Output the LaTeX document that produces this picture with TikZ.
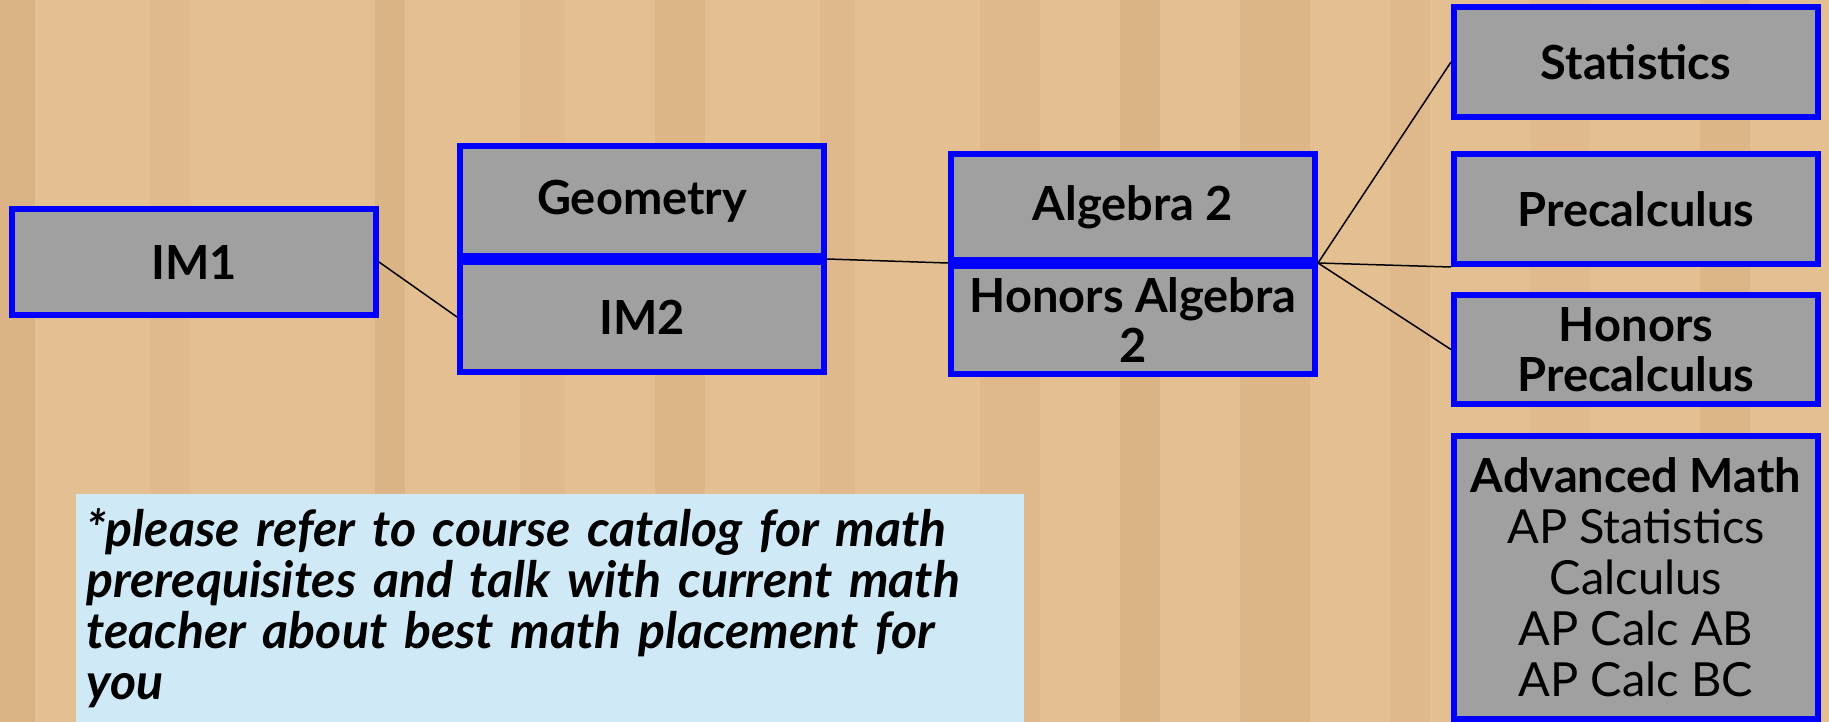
\documentclass[tikz,border=0pt]{standalone}
\usepackage{fontspec}
\setmainfont{Lato}
\usetikzlibrary{positioning}
\definecolor{woodtan}{RGB}{228,191,146}
\definecolor{woodgrain}{RGB}{196,150,100}
\definecolor{boxgray}{RGB}{160,160,160}
\definecolor{boxblue}{RGB}{0,0,255}
\definecolor{noteblue}{RGB}{208,233,246}

\begin{document}
\begin{tikzpicture}[x=1pt,y=-1pt,node distance=0pt,
  course/.style={draw=boxblue,fill=boxgray,line width=6pt,minimum width=364pt,inner sep=2pt,align=center,font=\fontsize{47}{50}\selectfont\bfseries}]
\useasboundingbox (0,0) rectangle (1829,722);
\fill[woodtan] (0,0) rectangle (1829,722);
\foreach \x/\w/\o in {0/35/.3,150/40/.12,375/30/.25,520/45/.12,655/50/.2,820/35/.15,980/60/.15,1120/40/.25,1240/70/.2,1390/40/.15,1530/60/.12,1700/50/.2}
  {\fill[woodgrain,opacity=\o] (\x,0) rectangle ++(\w,722);}
\node[course,minimum height=106pt] (im1) at (194,262) {IM1};
\node[course,minimum height=110pt] (geo) at (642,201) {Geometry};
\node[course,minimum height=110pt,below=of geo] (im2) {IM2};
\node[course,minimum height=106pt] (alg) at (1133,207) {Algebra 2};
\node[course,minimum height=108pt,below=of alg] (halg) {Honors Algebra\\2};
\node[course,minimum height=110pt] (stat) at (1636,62) {Statistics};
\node[course,minimum height=110pt,below=31pt of stat] (pre) {Precalculus};
\node[course,minimum height=109pt,below=25pt of pre] (hpre) {Honors\\Precalculus};
\node[course,minimum height=283pt,below=26pt of hpre,font=\fontsize{47}{51}\selectfont] (adv) {\textbf{Advanced Math}\\AP Statistics\\Calculus\\AP Calc AB\\AP Calc BC};
\node[fill=noteblue,anchor=north west,text width=928pt,inner xsep=10pt,inner ysep=0pt,minimum height=228pt,align=left,font=\fontsize{50}{51}\selectfont\bfseries\itshape] (note) at (76,494) {*please refer to course catalog for math\\prerequisites and talk with current math\\teacher about best math placement for\\you};
\draw[line width=1.5pt] (im1.east)--(im2.west);
\draw[line width=1.5pt] (geo.south east)--(alg.south west);
\foreach \c in {stat.west,pre.south west,hpre.west}{\draw[line width=1.5pt] (alg.south east)--(\c);}
\end{tikzpicture}
\end{document}
